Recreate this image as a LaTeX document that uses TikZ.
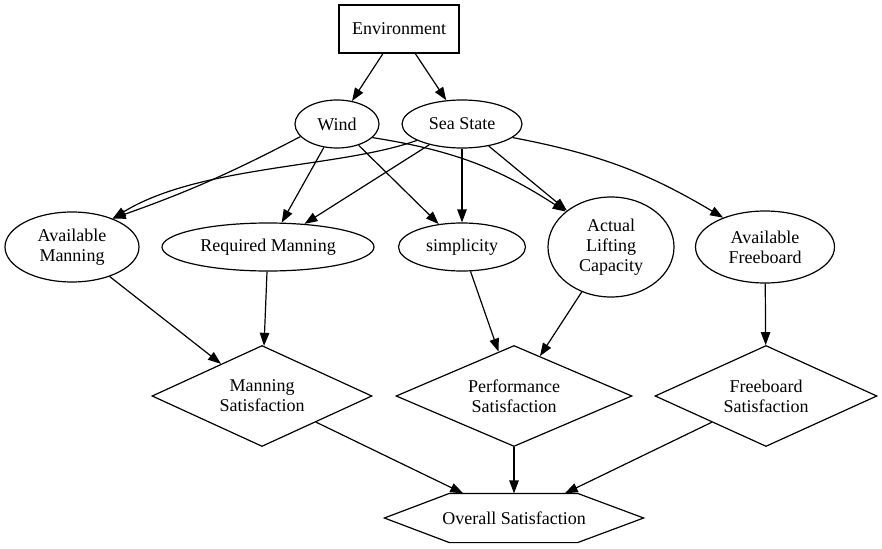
\documentclass[tikz,border=0pt]{standalone}
\usepackage{fontspec}
\setmainfont{Liberation Serif}
\usetikzlibrary{shapes.geometric, arrows.meta, calc}
\begin{document}
\begin{tikzpicture}[x=1pt,y=-1pt, line width=1.2pt,
  every node/.style={font=\fontsize{18}{20}\selectfont, align=center, inner sep=0pt},
  ell/.style={draw, ellipse},
  dia/.style={draw, diamond, aspect=2.2},
  box/.style={draw, rectangle},
  edge/.style={-{Triangle[length=13pt,width=9.5pt]}},
]
\useasboundingbox (0,0) rectangle (882,548);

% nodes
\node[box, minimum width=120pt, minimum height=48pt] (env) at (399,29) {Environment};
\node[ell, minimum width=84pt, minimum height=48pt] (wind) at (337,124) {Wind};
\node[ell, minimum width=120pt, minimum height=48pt] (sea) at (462,124) {Sea State};
\node[ell, minimum width=134pt, minimum height=70pt] (am) at (72,247) {Available\\Manning};
\node[ell, minimum width=212pt, minimum height=48pt] (rm) at (268,247) {Required Manning};
\node[ell, minimum width=127pt, minimum height=48pt] (simp) at (462,247) {simplicity};
\node[ell, minimum width=126pt, minimum height=100pt] (alc) at (611,247) {Actual\\Lifting\\Capacity};
\node[ell, minimum width=139pt, minimum height=72pt] (af) at (765,247) {Available\\Freeboard};
\node[dia, minimum width=220pt, minimum height=101pt] (ms) at (262,396) {Manning\\Satisfaction};
\node[dia, minimum width=236pt, minimum height=101pt] (ps) at (514,396) {Performance\\Satisfaction};
\node[dia, minimum width=222pt, minimum height=101pt] (fs) at (766,396) {Freeboard\\Satisfaction};
\node[minimum width=258pt, minimum height=48pt] (os) at (514,518) {Overall Satisfaction};
\draw ($(os.north west)+(65,0)$) -- ($(os.north east)+(-66,0)$) -- (os.east)
  -- ($(os.south east)+(-66,0)$) -- ($(os.south west)+(65,0)$) -- (os.west) -- cycle;

% edges
\draw[edge] (env) -- (wind);
\draw[edge] (env) -- (sea);
\draw[edge] (wind.199) to[bend left=4] (am.35);
\draw[edge] (sea.200) .. controls (340,168) and (200,165) .. (am.35);
\draw[edge] (wind) -- (rm);
\draw[edge] (sea) -- (rm);
\draw[edge] (wind) -- (simp);
\draw[edge] (sea) -- (simp);
\draw[edge] (wind.339) to[bend left=12] (alc.142);
\draw[edge] (sea) -- (alc);
\draw[edge] (sea.345) to[bend left=10] (af.145);
\draw[edge] (am) -- (ms);
\draw[edge] (rm) -- (ms);
\draw[edge] (simp) -- (ps);
\draw[edge] (alc) -- (ps);
\draw[edge] (af) -- (fs);
\draw[edge] (ms) -- (os);
\draw[edge] (ps) -- (os);
\draw[edge] (fs) -- (os);
\end{tikzpicture}
\end{document}
